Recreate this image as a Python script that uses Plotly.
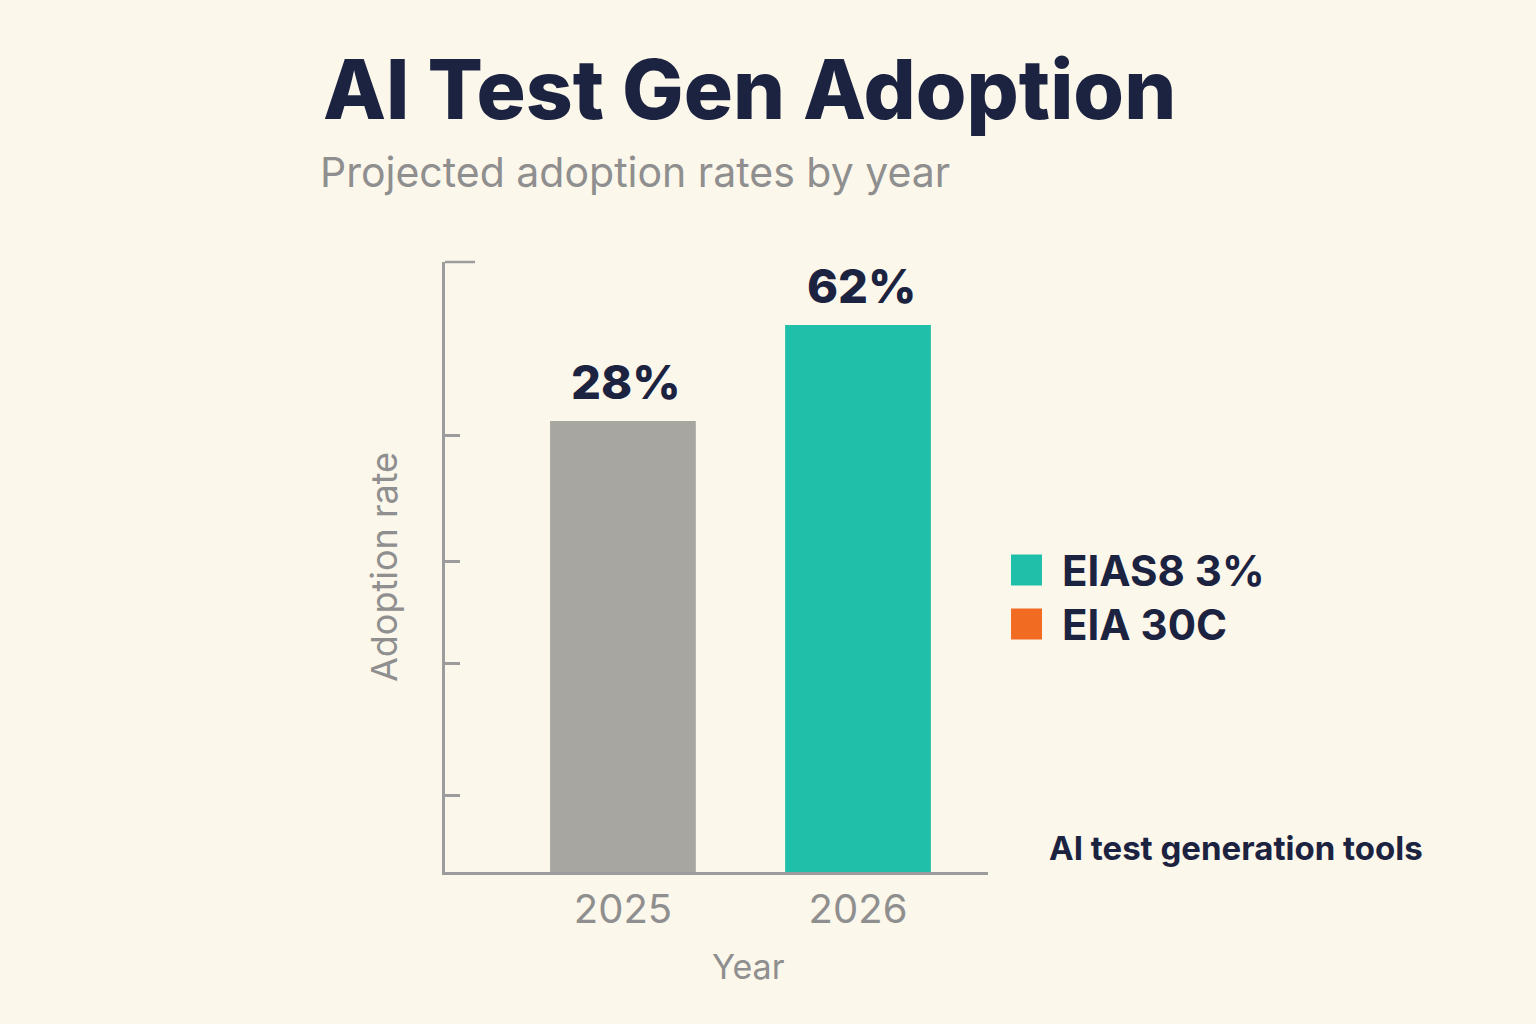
import math
import plotly.graph_objects as go

# ---- data ----
years = ["2025", "2026"]
adoption = [28, 62]
bar_labels = ["28%", "62%"]
bar_colors = ["#A8A6A0", "#1FBFAA"]
legend_names = ["EIAS8 3%", "EIA 30C"]
legend_colors = ["#1FBFAA", "#F26B22"]
y_tick_positions = [1.26, 3.77, 8.78, 24.9]

title_text = "AI Test Gen Adoption"
subtitle_text = "Projected adoption rates by year"
note_text = "AI test generation tools"

# ---- layout helpers (pixel -> paper) ----
W, H = 1536, 1024
L, R, T, B = 445, 988, 262, 872
def px(x):
    return (x - L) / (R - L)
def py(y):
    return (B - y) / (B - T)

NAVY = "#1B2340"
GRAY = "#8F8F8F"
AXIS = "#9C9C9C"
BG = "#FCF7EB"
FONT = "Inter"

fig = go.Figure()
fig.add_trace(go.Bar(
    x=years, y=adoption, marker=dict(color=bar_colors, line=dict(width=0)),
    width=0.62, showlegend=False, hoverinfo="x+y",
))

annotations = []
for i, (v, lab) in enumerate(zip(adoption, bar_labels)):
    annotations.append(dict(
        x=i, y=math.log10(v), xref="x", yref="y", text=lab,
        showarrow=False, yanchor="bottom", yshift=9, xshift=3,
        font=dict(family=FONT, size=47, color=NAVY, weight=800),
    ))

annotations += [
    dict(x=px(321), y=py(90), xref="paper", yref="paper", text=title_text,
         showarrow=False, xanchor="left", yanchor="middle",
         font=dict(family=FONT, size=82, color=NAVY, weight=800)),
    dict(x=px(318), y=py(172), xref="paper", yref="paper", text=subtitle_text,
         showarrow=False, xanchor="left", yanchor="middle",
         font=dict(family=FONT, size=41, color=GRAY)),
    dict(x=px(1047), y=py(848), xref="paper", yref="paper", text=note_text,
         showarrow=False, xanchor="left", yanchor="middle",
         font=dict(family=FONT, size=33, color=NAVY, weight=700)),
    dict(x=px(748), y=py(966), xref="paper", yref="paper", text="Year",
         showarrow=False, xanchor="center", yanchor="middle",
         font=dict(family=FONT, size=34, color=GRAY)),
]

shapes = [
    dict(type="line", xref="paper", yref="paper", x0=0, x1=px(475), y0=1, y1=1,
         line=dict(color=AXIS, width=2.5)),
]
leg_y = [570, 624]
for name, col, yc in zip(legend_names, legend_colors, leg_y):
    shapes.append(dict(type="rect", xref="paper", yref="paper",
                       x0=px(1011), x1=px(1042), y0=py(yc + 15.5), y1=py(yc - 15.5),
                       fillcolor=col, line=dict(width=0)))
    annotations.append(dict(x=px(1060), y=py(yc), xref="paper", yref="paper",
                            text=name, showarrow=False, xanchor="left",
                            yanchor="middle",
                            font=dict(family=FONT, size=42, color=NAVY, weight=700)))

bottom = 0.669
top = 104.4
fig.update_layout(
    width=W, height=H,
    paper_bgcolor=BG, plot_bgcolor=BG,
    margin=dict(l=L, r=W - R, t=T, b=H - B, pad=0),
    xaxis=dict(
        type="category", range=[-0.757, 1.553],
        showline=True, linecolor=AXIS, linewidth=2.5, ticks="",
        showgrid=False, zeroline=False,
        tickfont=dict(family=FONT, size=40, color=GRAY),
    ),
    yaxis=dict(
        type="log", range=[math.log10(bottom), math.log10(top)],
        showline=True, linecolor=AXIS, linewidth=2.5,
        ticks="inside", ticklen=15, tickwidth=2.5, tickcolor=AXIS,
        tickmode="array", tickvals=y_tick_positions, showticklabels=False,
        showgrid=False, zeroline=False,
        title=dict(text="Adoption rate", font=dict(family=FONT, size=36, color=GRAY), standoff=34),
    ),
    annotations=annotations,
    shapes=shapes,
)

fig.write_html("out.html")
